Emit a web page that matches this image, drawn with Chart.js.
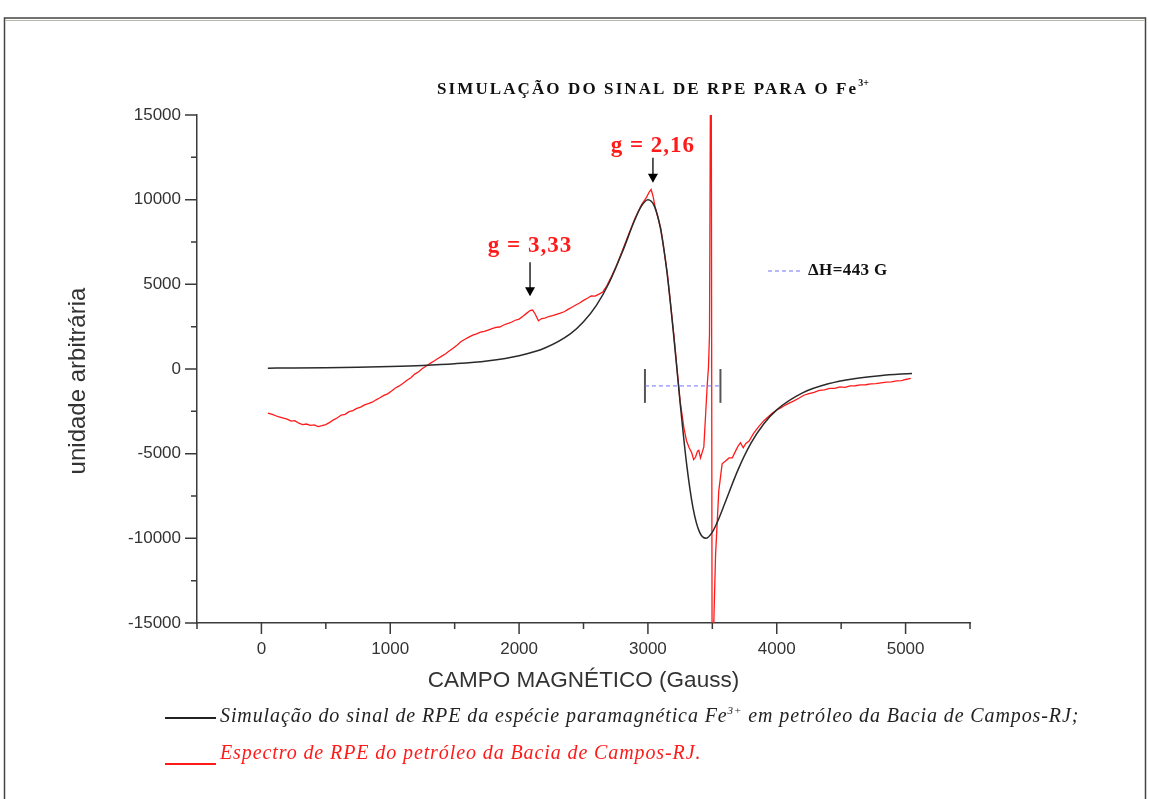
<!DOCTYPE html>
<html>
<head>
<meta charset="utf-8">
<title>RPE Fe3+</title>
<script src="https://cdn.jsdelivr.net/npm/chart.js@4.4.1/dist/chart.umd.min.js"></script>
<style>
  html, body { margin: 0; padding: 0; background: #fff; }
  #wrap { width: 1149px; height: 799px; }
</style>
</head>
<body>
<div id="wrap"><canvas id="rpeChart" width="1149" height="799"></canvas></div>
<script>
// simulated Fe3+ line (field in Gauss, arbitrary units)
const simField = [50, 250, 500, 750, 1000, 1250, 1500, 1750, 2000, 2200, 2400, 2500, 2600, 2700, 2800, 2900, 2950, 3000, 3050, 3100, 3150, 3200, 3250, 3300, 3350, 3400, 3450, 3500, 3550, 3600, 3700, 3800, 3900, 4000, 4200, 4400, 4600, 4800, 5050];
const simSignal = [50, 60, 80, 110, 150, 210, 310, 475, 785, 1240, 2090, 2790, 3760, 5110, 6880, 8840, 9630, 10000, 9620, 8200, 5590, 1990, -1990, -5590, -8200, -9620, -10000, -9630, -8840, -7870, -5940, -4380, -3230, -2410, -1410, -875, -575, -395, -260];

// measured spectrum of the crude oil sample
const expField = [50, 90, 130, 170, 200, 230, 260, 290, 320, 350, 380, 410, 440, 470, 500, 530, 560, 590, 620, 650, 680, 710, 740, 770, 800, 830, 860, 890, 920, 950, 980, 1010, 1040, 1070, 1100, 1130, 1160, 1190, 1220, 1250, 1280, 1310, 1340, 1370, 1400, 1430, 1460, 1490, 1520, 1550, 1580, 1610, 1640, 1670, 1700, 1730, 1760, 1790, 1820, 1850, 1880, 1910, 1940, 1970, 2000, 2030, 2060, 2085, 2105, 2125, 2150, 2175, 2200, 2230, 2260, 2290, 2320, 2350, 2380, 2410, 2440, 2470, 2500, 2530, 2560, 2590, 2620, 2650, 2680, 2710, 2750, 2800, 2850, 2900, 2950, 2990, 3010, 3025, 3040, 3055, 3100, 3150, 3200, 3250, 3280, 3300, 3320, 3340, 3355, 3370, 3385, 3395, 3408, 3420, 3434, 3447, 3460, 3470, 3478, 3485, 3492, 3498, 3508, 3525, 3550, 3576, 3600, 3630, 3655, 3680, 3700, 3718, 3740, 3760, 3785, 3820, 3860, 3900, 3930, 3964, 4000, 4030, 4067, 4100, 4130, 4171, 4210, 4250, 4290, 4330, 4370, 4410, 4450, 4490, 4530, 4570, 4610, 4650, 4690, 4730, 4770, 4810, 4850, 4890, 4930, 4970, 5000, 5040];
const expSignal = [-2600, -2700, -2820, -2900, -2960, -3080, -3050, -3200, -3280, -3250, -3330, -3300, -3400, -3350, -3280, -3150, -3000, -2880, -2720, -2680, -2520, -2460, -2330, -2250, -2120, -2050, -1960, -1820, -1700, -1560, -1470, -1300, -1120, -1000, -840, -660, -520, -300, -160, 30, 180, 330, 470, 620, 760, 900, 1080, 1240, 1420, 1620, 1760, 1880, 2000, 2080, 2180, 2220, 2300, 2380, 2460, 2480, 2600, 2680, 2760, 2880, 2950, 3120, 3300, 3450, 3480, 3250, 2850, 2980, 3000, 3100, 3150, 3230, 3300, 3380, 3520, 3650, 3780, 3900, 4050, 4180, 4320, 4300, 4420, 4550, 4900, 5350, 6000, 6950, 7950, 8900, 9700, 10150, 10450, 10600, 10200, 9600, 8300, 5700, 2100, -1900, -3500, -4250, -4650, -4950, -5350, -5200, -4850, -4800, -5250, -4950, -4600, -2800, -1000, 100, 2000, 16000, 16000, -16000, -16000, -11000, -7200, -5600, -5450, -5250, -5250, -4850, -4550, -4350, -4650, -4400, -4250, -3800, -3400, -3050, -2850, -2620, -2420, -2300, -2130, -2000, -1900, -1730, -1550, -1450, -1380, -1260, -1230, -1150, -1140, -1060, -1080, -1000, -990, -940, -930, -880, -860, -820, -780, -760, -700, -690, -620, -560];

// line width marker (delta H) and its end bars
const widthField = [2977, 3563];
const widthLevel = -1000;
const widthBar = 1000;

// axis ticks
const xLabelTicks = [0, 1000, 2000, 3000, 4000, 5000];
const xMinorTicks = [-500, 500, 1500, 2500, 3500, 4500, 5500];
const yLabelTicks = [-15000, -10000, -5000, 0, 5000, 10000, 15000];
const yMinorTicks = [-12500, -7500, -2500, 2500, 7500, 12500];

// g-factor labels, the field they point at and the arrow tip value
const gLabels = ['g = 3,33', 'g = 2,16'];
const gFields = [2085, 3039];
const gTips = [4300, 11000];

const pairs = (xs, ys) => xs.map((x, i) => ({ x: x, y: ys[i] }));

const AXIS = '#3a3a3a';
const RED = '#ff1a1a';

// arrow length / text gap for each g label
const gArrowLen = [34, 25];
const gTextGap = [50, 37];

const decor = {
    id: 'decor',
    afterDraw(chart) {
        const c = chart.ctx;
        const xs = chart.scales.x;
        const ys = chart.scales.y;
        const area = chart.chartArea;

        c.save();
        // tick marks (long = labelled, short = minor)
        c.strokeStyle = AXIS;
        c.lineWidth = 1.5;
        c.beginPath();
        xLabelTicks.forEach(v => { const p = xs.getPixelForValue(v); c.moveTo(p, area.bottom); c.lineTo(p, area.bottom + 11); });
        xMinorTicks.forEach(v => { const p = xs.getPixelForValue(v); c.moveTo(p, area.bottom); c.lineTo(p, area.bottom + 6); });
        yLabelTicks.forEach(v => { const p = ys.getPixelForValue(v); c.moveTo(area.left, p); c.lineTo(area.left - 12, p); });
        yMinorTicks.forEach(v => { const p = ys.getPixelForValue(v); c.moveTo(area.left, p); c.lineTo(area.left - 6, p); });
        c.stroke();

        // axis titles
        c.fillStyle = '#333';
        c.font = '22.5px "Liberation Sans"';
        c.textAlign = 'center';
        c.textBaseline = 'middle';
        c.fillText('CAMPO MAGNÉTICO (Gauss)', (area.left + area.right) / 2, 681);
        c.save();
        c.translate(78, (area.top + area.bottom) / 2 + 12);
        c.rotate(-Math.PI / 2);
        c.font = '24px "Liberation Sans"';
        c.fillText('unidade arbitrária', 0, 0);
        c.restore();

        // title
        c.fillStyle = '#111';
        c.font = 'bold 17px "Liberation Serif"';
        c.textAlign = 'left';
        c.textBaseline = 'alphabetic';
        const title = 'SIMULAÇÃO DO SINAL DE RPE PARA O Fe';
        c.letterSpacing = '2.1px';
        const tw = c.measureText(title).width;
        const tx = 437;
        c.fillText(title, tx, 94);
        c.font = 'bold 10px "Liberation Serif"';
        c.letterSpacing = '0px';
        c.fillText('3+', tx + tw, 86);

        // g-factor labels and arrows
        gLabels.forEach((txt, i) => {
            const px = xs.getPixelForValue(gFields[i]);
            const py = ys.getPixelForValue(gTips[i]);
            c.fillStyle = RED;
            c.font = 'bold 23px "Liberation Serif"';
            c.letterSpacing = '1px';
            c.textAlign = 'center';
            c.textBaseline = 'middle';
            c.fillText(txt, px, py - gTextGap[i]);
            c.letterSpacing = '0px';
            c.strokeStyle = '#000';
            c.lineWidth = 1.3;
            c.beginPath();
            c.moveTo(px, py - gArrowLen[i]);
            c.lineTo(px, py - 5);
            c.stroke();
            c.fillStyle = '#000';
            c.beginPath();
            c.moveTo(px - 5, py - 9);
            c.lineTo(px + 5, py - 9);
            c.lineTo(px, py);
            c.closePath();
            c.fill();
        });

        // delta H key
        c.strokeStyle = '#7070ff';
        c.lineWidth = 1;
        c.setLineDash([4, 3]);
        c.beginPath();
        c.moveTo(768, 271);
        c.lineTo(803, 271);
        c.stroke();
        c.setLineDash([]);
        c.fillStyle = '#111';
        c.font = 'bold 17px "Liberation Serif"';
        c.letterSpacing = '0.4px';
        c.textAlign = 'left';
        c.textBaseline = 'middle';
        c.fillText('\u0394H=443 G', 808, 271);
        c.letterSpacing = '0px';

        // caption lines under the plot
        c.strokeStyle = '#222';
        c.lineWidth = 2;
        c.beginPath();
        c.moveTo(165, 718);
        c.lineTo(216, 718);
        c.stroke();
        c.font = 'italic 20px "Liberation Serif"';
        c.letterSpacing = '0.9px';
        c.fillStyle = '#222';
        const cap1a = 'Simulação do sinal de RPE da espécie paramagnética Fe';
        c.fillText(cap1a, 220, 717);
        const w = c.measureText(cap1a).width;
        c.font = 'italic 11px "Liberation Serif"';
        c.fillText('3+', 220 + w, 711);
        const w2 = c.measureText('3+').width;
        c.font = 'italic 20px "Liberation Serif"';
        c.fillText(' em petróleo da Bacia de Campos-RJ;', 220 + w + w2, 717);

        c.strokeStyle = RED;
        c.beginPath();
        c.moveTo(165, 764);
        c.lineTo(216, 764);
        c.stroke();
        c.fillStyle = RED;
        c.fillText('Espectro de RPE do petróleo da Bacia de Campos-RJ.', 220, 754);
        c.letterSpacing = '0px';

        // page frame
        c.strokeStyle = '#444';
        c.lineWidth = 1.5;
        c.beginPath();
        c.moveTo(4.5, 820);
        c.lineTo(4.5, 18);
        c.lineTo(1145.5, 18);
        c.lineTo(1145.5, 820);
        c.stroke();
        c.strokeStyle = '#b8b8a8';
        c.lineWidth = 1;
        c.beginPath();
        c.moveTo(5, 20.5);
        c.lineTo(1145, 20.5);
        c.stroke();
        c.restore();
    }
};

const ctx = document.getElementById('rpeChart').getContext('2d');
new Chart(ctx, {
    type: 'scatter',
    data: {
        datasets: [
            {
                label: 'Espectro',
                data: pairs(expField, expSignal),
                showLine: true,
                borderColor: RED,
                borderWidth: 1.3,
                pointRadius: 0,
                order: 2
            },
            {
                label: 'Simulação',
                data: pairs(simField, simSignal),
                showLine: true,
                borderColor: '#2a2a2a',
                borderWidth: 1.5,
                pointRadius: 0,
                cubicInterpolationMode: 'monotone',
                order: 1
            },
            {
                label: 'dH',
                data: pairs(widthField, widthField.map(() => widthLevel)),
                showLine: true,
                borderColor: '#7070ff',
                borderWidth: 1,
                borderDash: [4, 3],
                pointRadius: 0,
                order: 0
            },
            {
                label: 'bar1',
                data: [{ x: widthField[0], y: widthLevel - widthBar }, { x: widthField[0], y: widthLevel + widthBar }],
                showLine: true,
                borderColor: '#555',
                borderWidth: 2,
                pointRadius: 0,
                order: 0
            },
            {
                label: 'bar2',
                data: [{ x: widthField[1], y: widthLevel - widthBar }, { x: widthField[1], y: widthLevel + widthBar }],
                showLine: true,
                borderColor: '#555',
                borderWidth: 2,
                pointRadius: 0,
                order: 0
            }
        ]
    },
    options: {
        responsive: false,
        animation: false,
        layout: { padding: { left: 0, top: 115, right: 179, bottom: 136 } },
        plugins: {
            legend: { display: false },
            tooltip: { enabled: false }
        },
        scales: {
            x: {
                type: 'linear',
                min: -500,
                max: 5500,
                afterFit: s => { s.height = 40; },
                afterBuildTicks: s => { s.ticks = xLabelTicks.map(v => ({ value: v })); },
                grid: { display: false, drawTicks: false },
                border: { color: AXIS, width: 1.5 },
                ticks: {
                    color: '#333',
                    padding: 16,
                    maxRotation: 0,
                    font: { family: 'Liberation Sans', size: 17 },
                    callback: v => String(v)
                }
            },
            y: {
                type: 'linear',
                min: -15000,
                max: 15000,
                afterFit: s => { s.width = 197; },
                afterBuildTicks: s => { s.ticks = yLabelTicks.map(v => ({ value: v })); },
                grid: { display: false, drawTicks: false },
                border: { color: AXIS, width: 1.5 },
                ticks: {
                    color: '#333',
                    padding: 16,
                    font: { family: 'Liberation Sans', size: 17 },
                    callback: v => String(v)
                }
            }
        }
    },
    plugins: [decor]
});
</script>
</body>
</html>
